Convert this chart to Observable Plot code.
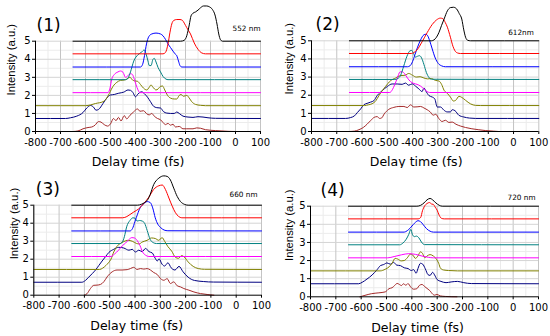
<!DOCTYPE html>
<html><head><meta charset="utf-8">
<script src="https://cdn.jsdelivr.net/npm/d3@7"></script>
<script src="https://cdn.jsdelivr.net/npm/@observablehq/plot@0.6"></script>
<style>
html,body{margin:0;padding:0;background:#fff;}
#wrap{position:relative;width:550px;height:336px;overflow:hidden;background:#fff;}
.panel{position:absolute;}
</style></head><body><div id="wrap"></div>
<script>
// ---------- labels / ticks ----------
const xTicks = [-800,-700,-600,-500,-400,-300,-200,-100,0,100];
const xMinor = [-750,-650,-550,-450,-350,-250,-150,-50,50];
const yTicks = [0,1,2,3,4,5];
const yMinor = [0.5,1.5,2.5,3.5,4.5];
const panelLabels = ["(1)","(2)","(3)","(4)"];
const wavelengthLabels = ["552 nm","612nm","660 nm","720 nm"];
const xLabel = "Delay time (fs)";
const yLabel = "Intensity (a.u.)";
const traceNames = ["brown","navy","olive","magenta","teal","blue","red","black"];

// ---------- panel (1) 552 nm ----------
const p1Brown = [[-650,0],[-630,0.03],[-610,0.15],[-590,0.22],[-575,0.25],[-562,0.35],[-548,0.55],[-538,0.52],[-525,0.38],[-512,0.3],[-500,0.42],[-488,0.72],[-478,0.6],[-468,0.78],[-458,0.58],[-445,0.88],[-435,0.7],[-422,0.9],[-408,1.08],[-392,1.25],[-382,1.12],[-368,1.15],[-355,0.98],[-345,0.92],[-335,1.0],[-325,0.85],[-312,0.72],[-300,0.65],[-290,0.5],[-280,0.38],[-270,0.45],[-260,0.35],[-250,0.4],[-240,0.25],[-225,0.28],[-210,0.15],[-195,0.15],[-170,0.15],[-155,0.2],[-140,0.18],[-120,0.1],[-80,0.05],[-30,0.01],[0,0]];
const p1Navy = [[-800,0.72],[-680,0.72],[-660,0.76],[-635,0.85],[-610,1.05],[-595,1.3],[-580,1.44],[-568,1.35],[-558,1.18],[-548,1.22],[-530,1.55],[-515,1.85],[-500,2.02],[-485,2.05],[-467,2.12],[-447,2.18],[-430,2.3],[-420,2.28],[-410,2.15],[-400,1.92],[-390,2.08],[-375,2.2],[-365,2.1],[-352,1.9],[-340,1.65],[-328,1.4],[-315,1.32],[-300,1.3],[-288,1.1],[-275,1.02],[-260,1.0],[-245,1.0],[-235,1.08],[-225,1.0],[-210,0.85],[-190,0.8],[-170,0.78],[-150,0.82],[-130,0.8],[-110,0.76],[-80,0.73],[100,0.72]];
const p1Olive = [[-800,1.43],[-600,1.43],[-580,1.47],[-560,1.55],[-530,1.65],[-515,1.85],[-505,2.1],[-490,2.5],[-475,2.72],[-460,2.83],[-445,2.85],[-435,2.9],[-422,3.0],[-412,2.85],[-402,2.8],[-392,2.78],[-380,2.6],[-368,2.4],[-355,2.3],[-345,2.45],[-338,2.58],[-330,2.45],[-318,2.3],[-310,2.35],[-300,2.5],[-292,2.52],[-283,2.3],[-272,2.0],[-260,1.85],[-245,1.8],[-235,1.8],[-225,2.0],[-218,2.05],[-208,1.95],[-195,2.0],[-185,1.85],[-175,1.65],[-160,1.5],[-140,1.45],[-120,1.43],[100,1.43]];
const p1Magenta = [[-650,2.15],[-510,2.15],[-502,2.4],[-495,2.9],[-485,3.15],[-470,3.3],[-460,3.35],[-450,3.28],[-440,3.0],[-430,3.1],[-420,3.2],[-412,3.15],[-405,2.9],[-398,2.6],[-390,2.3],[-382,2.15],[100,2.15]];
const p1Teal = [[-650,2.87],[-440,2.87],[-430,2.95],[-420,3.3],[-407,3.9],[-390,4.25],[-375,4.4],[-365,4.52],[-358,4.3],[-350,3.9],[-345,3.65],[-338,3.65],[-330,4.0],[-325,4.05],[-318,3.85],[-310,3.55],[-300,3.3],[-290,3.05],[-278,2.9],[-270,2.87],[100,2.87]];
const p1Blue = [[-650,3.57],[-380,3.57],[-372,3.7],[-364,4.2],[-356,4.85],[-347,5.25],[-335,5.4],[-318,5.45],[-300,5.4],[-290,5.3],[-280,5.1],[-270,4.85],[-260,4.65],[-250,4.45],[-242,4.3],[-235,4.2],[-228,3.9],[-222,3.65],[-215,3.57],[100,3.57]];
const p1Red = [[-650,4.3],[-290,4.3],[-280,4.38],[-270,4.85],[-262,5.5],[-255,5.95],[-247,6.15],[-235,6.2],[-222,6.2],[-212,6.15],[-205,6.0],[-195,5.75],[-180,5.4],[-165,4.9],[-150,4.55],[-135,4.35],[-120,4.3],[100,4.3]];
const p1Black = [[-650,5],[-220,5],[-205,5.05],[-195,5.3],[-185,5.9],[-178,6.4],[-170,6.55],[-160,6.62],[-150,6.72],[-140,6.85],[-128,6.95],[-115,6.95],[-104,6.9],[-92,6.75],[-82,6.45],[-74,5.95],[-67,5.4],[-60,5.08],[-52,5.0],[100,5]];

// ---------- panel (2) 612 nm ----------
const p2Brown = [[-650,0],[-630,0.02],[-612,0.1],[-595,0.22],[-580,0.4],[-566,0.6],[-552,0.78],[-540,0.82],[-530,0.72],[-522,0.75],[-512,0.97],[-494,1.22],[-474,1.33],[-454,1.38],[-434,1.38],[-421,1.32],[-408,1.47],[-395,1.35],[-382,1.36],[-368,1.38],[-355,1.3],[-342,1.2],[-330,1.08],[-318,0.9],[-308,0.95],[-296,0.72],[-283,0.55],[-270,0.62],[-256,0.5],[-243,0.52],[-228,0.4],[-210,0.3],[-190,0.22],[-165,0.15],[-140,0.1],[-110,0.05],[-80,0.02],[-60,0]];
const p2Navy = [[-800,0.72],[-665,0.72],[-645,0.77],[-630,0.86],[-618,1.05],[-605,1.25],[-592,1.48],[-580,1.55],[-566,1.62],[-553,1.7],[-540,1.98],[-520,2.25],[-500,2.48],[-481,2.62],[-461,2.62],[-441,2.6],[-428,2.67],[-415,2.55],[-401,2.63],[-388,2.5],[-375,2.35],[-362,2.2],[-355,2.4],[-348,2.25],[-335,1.98],[-322,1.9],[-312,1.8],[-302,1.35],[-289,1.35],[-276,1.18],[-263,1.08],[-250,1.08],[-243,1.2],[-232,1.15],[-217,0.9],[-197,0.8],[-175,0.74],[-150,0.72],[100,0.72]];
const p2Olive = [[-800,1.43],[-590,1.43],[-575,1.47],[-560,1.53],[-545,1.7],[-533,1.98],[-520,2.25],[-507,2.48],[-487,2.8],[-467,2.95],[-448,3.08],[-430,3.1],[-415,3.2],[-400,3.1],[-385,3.0],[-370,3.02],[-355,2.95],[-340,2.9],[-325,2.92],[-310,2.82],[-295,2.78],[-285,2.6],[-275,2.27],[-262,2.1],[-250,1.9],[-238,1.68],[-229,1.72],[-216,1.94],[-205,1.88],[-190,1.72],[-170,1.52],[-150,1.44],[-130,1.43],[100,1.43]];
const p2Magenta = [[-650,2.15],[-490,2.15],[-480,2.3],[-470,2.6],[-460,2.95],[-450,3.28],[-442,3.3],[-432,3.2],[-420,2.95],[-408,2.75],[-395,2.65],[-382,2.6],[-368,2.5],[-355,2.35],[-342,2.2],[-332,2.15],[100,2.15]];
const p2Teal = [[-650,2.87],[-470,2.87],[-458,2.92],[-447,3.1],[-435,3.6],[-422,4.15],[-410,4.45],[-403,4.47],[-396,4.3],[-389,4.1],[-380,4.15],[-372,4.18],[-364,4.05],[-355,3.7],[-345,3.25],[-335,2.98],[-325,2.88],[100,2.87]];
const p2Blue = [[-650,3.57],[-420,3.57],[-410,3.62],[-400,3.85],[-390,4.25],[-380,4.65],[-368,5.05],[-355,5.33],[-347,5.36],[-340,5.28],[-332,5.0],[-322,4.55],[-310,4.05],[-298,3.75],[-285,3.62],[-270,3.57],[100,3.57]];
const p2Red = [[-650,4.3],[-405,4.3],[-395,4.35],[-382,4.5],[-362,4.95],[-342,5.45],[-322,5.9],[-305,6.15],[-290,6.25],[-280,6.22],[-270,6.0],[-262,5.75],[-250,5.2],[-240,4.7],[-232,4.45],[-222,4.33],[-210,4.3],[100,4.3]];
const p2Black = [[-650,5],[-325,5],[-315,5.05],[-305,5.2],[-295,5.47],[-285,5.85],[-275,6.2],[-262,6.65],[-250,6.83],[-238,6.85],[-225,6.75],[-215,6.5],[-205,6.2],[-197,5.6],[-190,5.2],[-182,5.03],[-170,5.0],[100,5]];

// ---------- panel (3) 660 nm ----------
const p3Brown = [[-600,0],[-590,0.08],[-576,0.37],[-563,0.55],[-550,0.56],[-536,0.6],[-523,0.75],[-510,1.02],[-490,1.3],[-471,1.4],[-451,1.4],[-431,1.42],[-418,1.48],[-405,1.55],[-392,1.43],[-378,1.48],[-365,1.45],[-352,1.48],[-339,1.4],[-326,1.26],[-312,1.15],[-299,0.92],[-286,0.83],[-273,0.92],[-260,0.65],[-247,0.74],[-233,0.52],[-220,0.46],[-207,0.37],[-187,0.28],[-167,0.18],[-141,0.09],[-115,0.04],[-88,0]];
const p3Navy = [[-800,0.72],[-610,0.72],[-596,0.82],[-583,1.0],[-569,1.2],[-556,1.4],[-543,1.65],[-530,1.9],[-516,2.15],[-503,2.38],[-484,2.55],[-464,2.66],[-444,2.62],[-424,2.5],[-411,2.55],[-398,2.4],[-385,2.5],[-372,2.42],[-358,2.6],[-345,2.42],[-332,2.35],[-320,2.05],[-312,1.9],[-305,2.02],[-293,1.72],[-283,1.62],[-270,1.8],[-257,1.52],[-242,1.4],[-226,1.6],[-210,1.3],[-190,1.0],[-165,0.82],[-130,0.76],[-90,0.73],[100,0.72]];
const p3Olive = [[-800,1.43],[-540,1.43],[-528,1.5],[-515,1.65],[-505,1.8],[-495,2.0],[-484,2.4],[-471,2.72],[-457,2.88],[-444,2.98],[-428,3.05],[-411,3.0],[-395,2.88],[-383,2.85],[-372,2.95],[-352,3.05],[-335,3.18],[-320,3.15],[-306,3.05],[-293,3.2],[-283,3.0],[-270,2.7],[-255,2.45],[-240,2.1],[-228,2.05],[-216,2.2],[-205,2.12],[-190,1.85],[-170,1.6],[-150,1.48],[-125,1.44],[100,1.43]];
const p3Magenta = [[-650,2.15],[-495,2.15],[-480,2.3],[-465,2.5],[-450,2.75],[-437,2.9],[-425,3.08],[-412,3.2],[-402,3.18],[-392,3.05],[-380,2.75],[-370,2.4],[-358,2.22],[-345,2.15],[100,2.15]];
const p3Teal = [[-650,2.87],[-458,2.87],[-450,2.95],[-442,3.25],[-433,3.8],[-420,4.15],[-408,4.3],[-400,4.28],[-392,4.12],[-382,4.15],[-372,4.12],[-362,4.0],[-352,3.6],[-340,3.1],[-328,2.92],[-315,2.87],[100,2.87]];
const p3Blue = [[-650,3.57],[-420,3.57],[-410,3.7],[-400,4.1],[-390,4.5],[-380,4.85],[-368,5.05],[-352,5.2],[-340,5.15],[-330,4.85],[-320,4.3],[-310,3.95],[-298,3.75],[-285,3.62],[-270,3.58],[100,3.57]];
const p3Red = [[-650,4.3],[-450,4.3],[-435,4.35],[-420,4.48],[-405,4.62],[-385,4.8],[-365,5.1],[-345,5.45],[-326,5.88],[-306,6.08],[-292,6.12],[-280,5.88],[-266,5.4],[-253,4.95],[-240,4.58],[-228,4.38],[-215,4.3],[100,4.3]];
const p3Black = [[-650,5],[-390,5.0],[-375,5.05],[-362,5.15],[-350,5.3],[-340,5.6],[-326,6.15],[-306,6.5],[-286,6.63],[-273,6.6],[-260,6.4],[-247,5.95],[-233,5.48],[-220,5.2],[-205,5.05],[-190,5.0],[100,5]];

// ---------- panel (4) 720 nm ----------
const p4Brown = [[-605,0],[-585,0.08],[-560,0.17],[-530,0.22],[-505,0.27],[-490,0.45],[-478,0.5],[-468,0.62],[-458,0.74],[-449,0.68],[-441,0.62],[-433,0.72],[-424,0.64],[-415,0.73],[-405,0.55],[-393,0.42],[-380,0.45],[-370,0.63],[-360,0.68],[-348,0.55],[-336,0.42],[-327,0.31],[-320,0.18],[-310,0.09],[-301,0.13],[-288,0.05],[-268,0.02],[-222,0]];
const p4Navy = [[-800,0.72],[-610,0.72],[-596,0.8],[-577,0.98],[-557,1.2],[-537,1.5],[-524,1.72],[-511,1.78],[-498,1.87],[-485,1.8],[-472,1.9],[-460,1.75],[-445,1.72],[-430,1.6],[-415,1.56],[-402,1.45],[-393,1.5],[-383,1.3],[-376,1.55],[-366,1.85],[-357,1.8],[-347,1.55],[-336,1.22],[-328,1.18],[-318,1.35],[-310,1.2],[-300,0.95],[-285,0.85],[-265,0.78],[-245,0.82],[-220,0.85],[-195,0.78],[-165,0.73],[100,0.72]];
const p4Olive = [[-800,1.43],[-525,1.43],[-505,1.52],[-490,1.65],[-478,1.85],[-466,2.12],[-455,2.08],[-442,1.98],[-430,2.0],[-418,2.15],[-406,2.35],[-396,2.3],[-386,2.12],[-376,2.25],[-366,2.48],[-358,2.4],[-349,2.15],[-340,2.25],[-328,2.33],[-315,2.25],[-303,2.08],[-294,1.85],[-287,1.58],[-275,1.48],[-255,1.45],[-220,1.43],[100,1.43]];
const p4Magenta = [[-650,2.15],[-495,2.15],[-470,2.22],[-440,2.32],[-412,2.38],[-385,2.34],[-360,2.25],[-335,2.18],[-315,2.15],[100,2.15]];
const p4Teal = [[-650,2.87],[-448,2.87],[-435,2.97],[-422,3.18],[-412,3.45],[-404,3.72],[-398,3.45],[-390,3.32],[-382,3.35],[-372,3.25],[-362,3.02],[-350,2.88],[100,2.87]];
const p4Blue = [[-650,3.57],[-430,3.57],[-418,3.65],[-406,3.8],[-395,3.98],[-385,4.12],[-376,4.2],[-366,4.15],[-355,3.98],[-342,3.76],[-328,3.62],[-315,3.57],[100,3.57]];
const p4Red = [[-650,4.3],[-375,4.3],[-365,4.38],[-358,4.75],[-350,5.0],[-340,5.15],[-330,5.2],[-322,5.12],[-315,5.1],[-308,4.95],[-300,4.78],[-292,4.5],[-283,4.33],[-272,4.3],[100,4.3]];
const p4Black = [[-650,5],[-380,5],[-365,5.05],[-352,5.18],[-340,5.35],[-328,5.43],[-318,5.35],[-305,5.18],[-292,5.05],[-280,5.0],[100,5]];

// ---------- styles & layout (not data) ----------
const traceColors = ["#bb6e6e","#6e6ed0","#bcbc66","#ff6cff","#6cbcaf","#6e6eff","#ff7070","#707070"];
const panelSeries = [
  [p1Brown,p1Navy,p1Olive,p1Magenta,p1Teal,p1Blue,p1Red,p1Black],
  [p2Brown,p2Navy,p2Olive,p2Magenta,p2Teal,p2Blue,p2Red,p2Black],
  [p3Brown,p3Navy,p3Olive,p3Magenta,p3Teal,p3Blue,p3Red,p3Black],
  [p4Brown,p4Navy,p4Olive,p4Magenta,p4Teal,p4Blue,p4Red,p4Black]
];
const layouts = [
  {left:0,   top:0,   ml:35,   mr:15,   y0:131,   ppu:18.06, lab:[1,25],  wl:[0,28],    xl:-10, yl:[10.8,95]},
  {left:275, top:0,   ml:36,   mr:11.7, y0:131,   ppu:18.14, lab:[4,24],  wl:[-5,32.5], xl:-9,  yl:[14,94]},
  {left:0,   top:168, ml:33.3, mr:14,   y0:126.7, ppu:18.0,  lab:[2,21],  wl:[-4,26.5], xl:-11, yl:[13.8,90.8]},
  {left:275, top:168, ml:35,   mr:12,   y0:128.3, ppu:18.12, lab:[10,22.5],wl:[-3,29.5], xl:-7,  yl:[14.2,92.5]}
];

const wrap = document.getElementById("wrap");
panelSeries.forEach((series, k) => {
  const L = layouts[k];
  const rows = [];
  series.forEach((pts, i) => pts.forEach(([x, y]) => rows.push({trace: traceNames[i], x, y})));
  const W = 275, H = 168;
  const yTop = L.y0 / L.ppu;
  const chart = Plot.plot({
    width: W, height: H,
    marginLeft: L.ml, marginRight: L.mr, marginTop: 0, marginBottom: H - L.y0,
    x: {domain: [-800, 100]},
    y: {domain: [0, yTop]},
    color: {domain: traceNames, range: traceColors},
    style: {fontFamily: "'DejaVu Sans', sans-serif", fontSize: "10px", background: "#fff", color: "#000", overflow: "visible"},
    marks: [
      Plot.ruleX(xMinor, {y1: 0, y2: 5, stroke: "#ebebeb", strokeWidth: 1}),
      Plot.ruleY(yMinor, {x1: -800, x2: 100, stroke: "#ececec", strokeWidth: 1}),
      Plot.ruleX(xTicks, {y1: 0, y2: 5, stroke: "#c4c4c4", strokeWidth: 1}),
      Plot.ruleY(yTicks.slice(1), {x1: -800, x2: 100, stroke: "#d4d4d4", strokeWidth: 1}),
      Plot.line(rows, {x: "x", y: "y", z: "trace", stroke: "trace", strokeWidth: 1, curve: "monotone-x"}),
      Plot.ruleX([-800], {y1: 0, y2: 5, stroke: "#000", strokeWidth: 1}),
      Plot.ruleY([0], {x1: -800, x2: 100, stroke: "#000", strokeWidth: 1}),
      Plot.axisX({ticks: xTicks, tickSize: 3, tickPadding: 4, label: null, tickFormat: d => String(d)}),
      Plot.axisY({ticks: yTicks, tickSize: 3, tickPadding: 2, label: null, tickFormat: d => String(d)}),
      Plot.text([panelLabels[k]], {text: d => d, frameAnchor: "top-left", dx: L.lab[0], dy: L.lab[1], textAnchor: "start", lineAnchor: "middle", fontSize: 17}),
      Plot.text([wavelengthLabels[k]], {text: d => d, frameAnchor: "top-right", dx: L.wl[0], dy: L.wl[1], textAnchor: "end", lineAnchor: "middle", fontSize: 7.3}),
      Plot.text([xLabel], {text: d => d, frameAnchor: "bottom", dx: L.xl, dy: 30.7, lineAnchor: "middle", fontSize: 12.5}),
      Plot.text([yLabel], {text: d => d, frameAnchor: "top-left", dx: L.yl[0] - L.ml, dy: L.yl[1], rotate: -90, lineAnchor: "middle", fontSize: 11.3, fontFamily: "'Liberation Sans', Arial, sans-serif"})
    ]
  });
  const div = document.createElement("div");
  div.className = "panel";
  div.style.left = L.left + "px";
  div.style.top = L.top + "px";
  div.appendChild(chart);
  wrap.appendChild(div);
});
</script></body></html>
